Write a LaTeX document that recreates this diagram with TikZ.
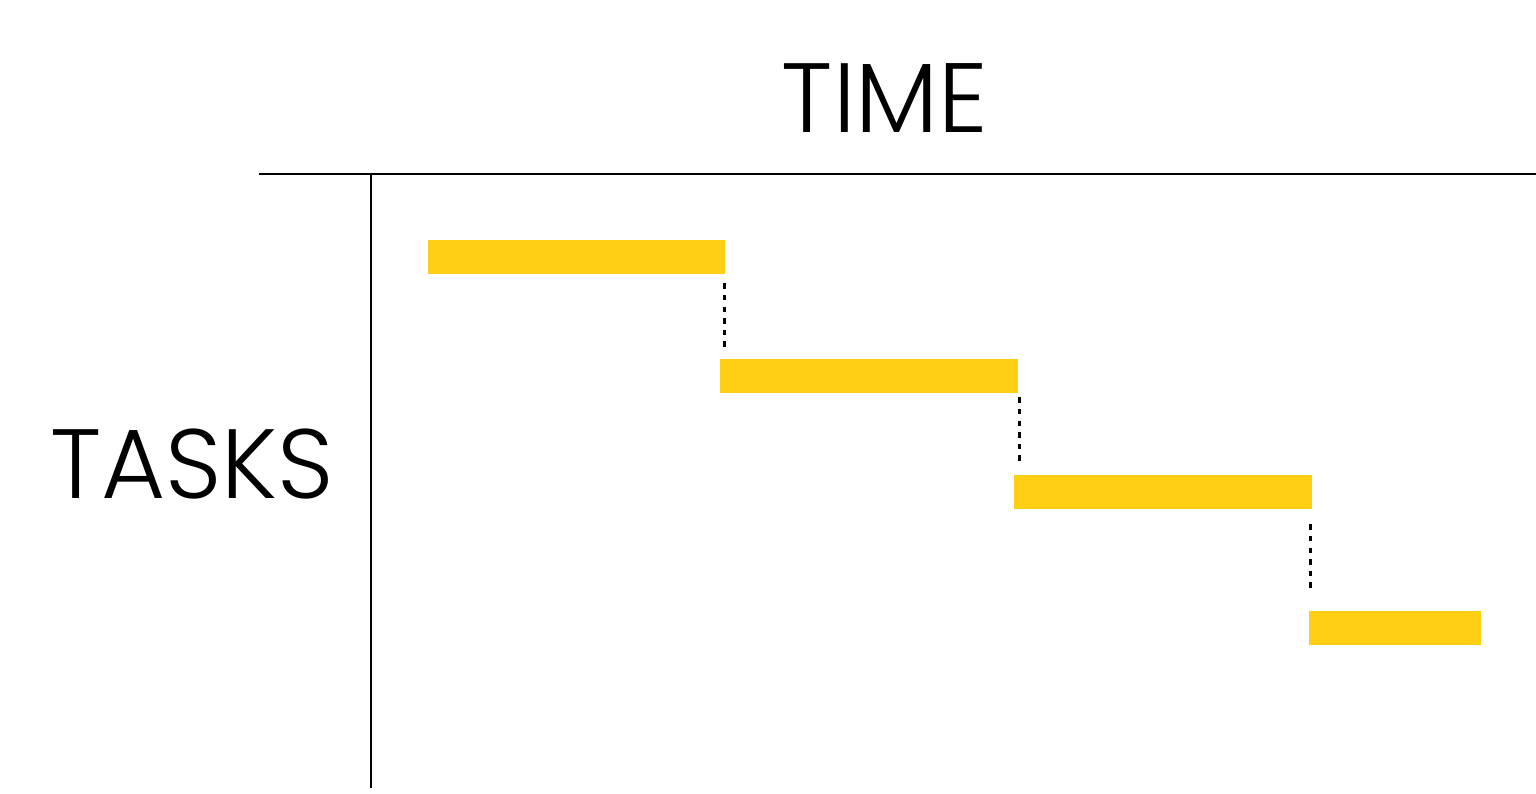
\documentclass[tikz,border=0pt]{standalone}
\usepackage{fontspec}
\newfontfamily\labelfont{Poppins Light}
\usepackage{xcolor}
\usepackage{tikz}
\usetikzlibrary{arrows.meta}
\definecolor{taskyellow}{HTML}{FFCF16}

\begin{document}
\begin{tikzpicture}[x=0.01cm,y=-0.01cm]
\tikzstyle{bar} =[rectangle, fill = taskyellow, inner sep=0pt, anchor=north west, minimum height=0.34cm]
\tikzstyle{axislabel} =[inner sep=0pt, font=\labelfont\fontsize{28}{28}\selectfont]
\tikzset{link/.style={line width=0.7pt, dash pattern=on 1.5pt off 1.8pt}}
\useasboundingbox (0,0) rectangle (1536,793);

\node[axislabel](time) at (885,98){TIME};
\node[axislabel](tasks) at (192,464){TASKS};

\draw[line width=0.55pt] (259,174) -- (1536,174);
\draw[line width=0.55pt] (371,174) -- (371,788);

\node[bar,minimum width=2.97cm](t1) at (427,239){};
\node[bar,minimum width=2.98cm](t2) at (719,358){};
\node[bar,minimum width=2.98cm](t3) at (1013,474){};
\node[bar,minimum width=1.72cm](t4) at (1308,610){};

\draw[link,shorten <=0.09cm,shorten >=0.08cm] ([xshift=-0.01cm]t1.south east) -- ([xshift=-0.01cm]t1.south east |- t2.north);
\draw[link,shorten <=0.04cm,shorten >=0.09cm] ([xshift=0.01cm]t2.south east) -- ([xshift=0.01cm]t2.south east |- t3.north);
\draw[link,shorten <=0.15cm,shorten >=0.17cm] ([xshift=-0.02cm]t3.south east) -- ([xshift=-0.02cm]t3.south east |- t4.north);
\end{tikzpicture}
\end{document}
